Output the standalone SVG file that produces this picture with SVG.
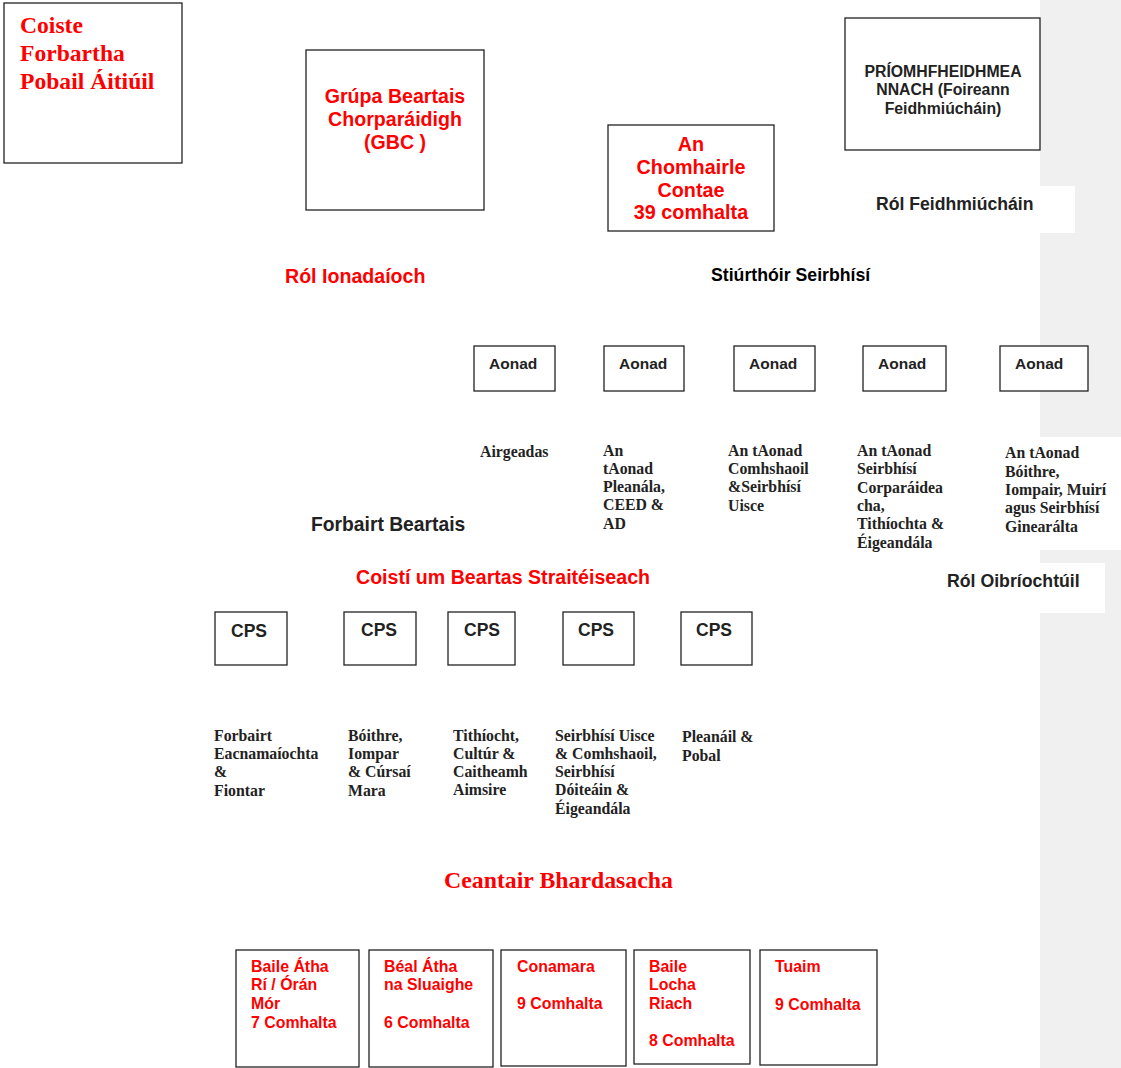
<svg xmlns="http://www.w3.org/2000/svg" width="1121" height="1068" viewBox="0 0 1121 1068">
<style>
.box{fill:#fff;stroke:#222;stroke-width:1.3}
.sr{font-family:"Liberation Serif",serif;font-weight:bold}
.ss{font-family:"Liberation Sans",Arial,sans-serif;font-weight:bold}
.red{fill:#ff0000}
.dk{fill:#222}
.lbl{font-family:"Liberation Serif",serif;font-weight:bold;font-size:15.8px;fill:#222}
</style>
<rect x="0" y="0" width="1121" height="1068" fill="#fff"/>
<rect x="1040" y="0" width="81" height="1068" fill="#f0f0f0"/>
<rect x="870" y="186" width="205" height="47" fill="#fff"/>
<rect x="1000" y="437" width="121" height="113" fill="#fff"/>
<rect x="940" y="563" width="165" height="50" fill="#fff"/>
<g id="connectors"></g>
<g id="coiste">
<rect class="box" x="4" y="3" width="178" height="160"/>
<text class="sr red" font-size="23.6"><tspan x="20" y="33">Coiste</tspan><tspan x="20" y="61">Forbartha</tspan><tspan x="20" y="89">Pobail Áitiúil</tspan></text>
</g>
<g id="gbc">
<rect class="box" x="306" y="50" width="178" height="160"/>
<text class="ss red" font-size="19.6" text-anchor="middle"><tspan x="395" y="103">Grúpa Beartais</tspan><tspan x="395" y="126">Chorparáidigh</tspan><tspan x="395" y="149">(GBC )</tspan></text>
</g>
<g id="comhairle">
<rect class="box" x="608" y="125" width="166" height="106"/>
<text class="ss red" font-size="19.8" text-anchor="middle"><tspan x="691" y="151">An</tspan><tspan x="691" y="174">Chomhairle</tspan><tspan x="691" y="197">Contae</tspan><tspan x="691" y="219">39 comhalta</tspan></text>
</g>
<g id="priomh">
<rect class="box" x="845" y="18" width="195" height="132"/>
<text class="ss dk" font-size="15.8" text-anchor="middle"><tspan x="943" y="77">PRÍOMHFHEIDHMEA</tspan><tspan x="943" y="95">NNACH (Foireann</tspan><tspan x="943" y="114">Feidhmiúcháin)</tspan></text>
</g>
<g id="labels-top">
<text class="ss dk" font-size="17.6" x="876" y="210">Ról Feidhmiúcháin</text>
<text class="ss red" font-size="19.6" x="285" y="283">Ról Ionadaíoch</text>
<text class="ss" font-size="17.7" fill="#000" x="711" y="281">Stiúrthóir Seirbhísí</text>
</g>
<g id="aonad1"><rect class="box" x="474" y="346" width="81" height="45"/><text class="ss dk" font-size="15.5" x="489" y="369">Aonad</text>
<text class="lbl" x="480" y="457">Airgeadas</text></g>
<g id="aonad2"><rect class="box" x="604" y="346" width="80" height="45"/><text class="ss dk" font-size="15.5" x="619" y="369">Aonad</text>
<text class="lbl"><tspan x="603" y="456">An</tspan><tspan x="603" y="474">tAonad</tspan><tspan x="603" y="492">Pleanála,</tspan><tspan x="603" y="510">CEED &amp;</tspan><tspan x="603" y="529">AD</tspan></text></g>
<g id="aonad3"><rect class="box" x="734" y="346" width="81" height="45"/><text class="ss dk" font-size="15.5" x="749" y="369">Aonad</text>
<text class="lbl"><tspan x="728" y="456">An tAonad</tspan><tspan x="728" y="474">Comhshaoil</tspan><tspan x="728" y="492">&amp;Seirbhísí</tspan><tspan x="728" y="511">Uisce</tspan></text></g>
<g id="aonad4"><rect class="box" x="863" y="346" width="83" height="45"/><text class="ss dk" font-size="15.5" x="878" y="369">Aonad</text>
<text class="lbl"><tspan x="857" y="456">An tAonad</tspan><tspan x="857" y="474">Seirbhísí</tspan><tspan x="857" y="493">Corparáidea</tspan><tspan x="857" y="511">cha,</tspan><tspan x="857" y="529">Tithíochta &amp;</tspan><tspan x="857" y="548">Éigeandála</tspan></text></g>
<g id="aonad5"><rect class="box" x="1000" y="346" width="88" height="45"/><text class="ss dk" font-size="15.5" x="1015" y="369">Aonad</text>
<text class="lbl"><tspan x="1005" y="458">An tAonad</tspan><tspan x="1005" y="477">Bóithre,</tspan><tspan x="1005" y="495">Iompair, Muirí</tspan><tspan x="1005" y="513">agus Seirbhísí</tspan><tspan x="1005" y="532">Ginearálta</tspan></text></g>
<g id="labels-mid">
<text class="ss dk" font-size="19.3" x="311" y="531">Forbairt Beartais</text>
<text class="ss red" font-size="19.6" x="356" y="584">Coistí um Beartas Straitéiseach</text>
<text class="ss dk" font-size="17.7" x="947" y="587">Ról Oibríochtúil</text>
</g>
<g id="cps1"><rect class="box" x="215" y="612" width="72" height="53"/><text class="ss dk" font-size="17.5" x="231" y="637">CPS</text>
<text class="lbl"><tspan x="214" y="741">Forbairt</tspan><tspan x="214" y="759">Eacnamaíochta</tspan><tspan x="214" y="777">&amp;</tspan><tspan x="214" y="796">Fiontar</tspan></text></g>
<g id="cps2"><rect class="box" x="344" y="612" width="72" height="53"/><text class="ss dk" font-size="17.5" x="361" y="636">CPS</text>
<text class="lbl"><tspan x="348" y="741">Bóithre,</tspan><tspan x="348" y="759">Iompar</tspan><tspan x="348" y="777">&amp; Cúrsaí</tspan><tspan x="348" y="796">Mara</tspan></text></g>
<g id="cps3"><rect class="box" x="448" y="612" width="67" height="53"/><text class="ss dk" font-size="17.5" x="464" y="636">CPS</text>
<text class="lbl"><tspan x="453" y="741">Tithíocht,</tspan><tspan x="453" y="759">Cultúr &amp;</tspan><tspan x="453" y="777">Caitheamh</tspan><tspan x="453" y="795">Aimsire</tspan></text></g>
<g id="cps4"><rect class="box" x="563" y="612" width="71" height="53"/><text class="ss dk" font-size="17.5" x="578" y="636">CPS</text>
<text class="lbl"><tspan x="555" y="741">Seirbhísí Uisce</tspan><tspan x="555" y="759">&amp; Comhshaoil,</tspan><tspan x="555" y="777">Seirbhísí</tspan><tspan x="555" y="795">Dóiteáin &amp;</tspan><tspan x="555" y="814">Éigeandála</tspan></text></g>
<g id="cps5"><rect class="box" x="681" y="612" width="71" height="53"/><text class="ss dk" font-size="17.5" x="696" y="636">CPS</text>
<text class="lbl"><tspan x="682" y="742">Pleanáil &amp;</tspan><tspan x="682" y="761">Pobal</tspan></text></g>
<text class="sr red" font-size="23.8" x="444" y="888">Ceantair Bhardasacha</text>
<g id="ca1"><rect class="box" x="236" y="950" width="123" height="117"/>
<text class="ss red" font-size="15.9"><tspan x="251" y="972">Baile Átha</tspan><tspan x="251" y="990">Rí / Órán</tspan><tspan x="251" y="1009">Mór</tspan><tspan x="251" y="1028">7 Comhalta</tspan></text></g>
<g id="ca2"><rect class="box" x="369" y="950" width="124" height="117"/>
<text class="ss red" font-size="15.9"><tspan x="384" y="972">Béal Átha</tspan><tspan x="384" y="990">na Sluaighe</tspan><tspan x="384" y="1028">6 Comhalta</tspan></text></g>
<g id="ca3"><rect class="box" x="501" y="950" width="125" height="116"/>
<text class="ss red" font-size="15.9"><tspan x="517" y="972">Conamara</tspan><tspan x="517" y="1009">9 Comhalta</tspan></text></g>
<g id="ca4"><rect class="box" x="634" y="950" width="116" height="114"/>
<text class="ss red" font-size="15.9"><tspan x="649" y="972">Baile</tspan><tspan x="649" y="990">Locha</tspan><tspan x="649" y="1009">Riach</tspan><tspan x="649" y="1046">8 Comhalta</tspan></text></g>
<g id="ca5"><rect class="box" x="760" y="950" width="117" height="115"/>
<text class="ss red" font-size="15.9"><tspan x="775" y="972">Tuaim</tspan><tspan x="775" y="1010">9 Comhalta</tspan></text></g>
</svg>
